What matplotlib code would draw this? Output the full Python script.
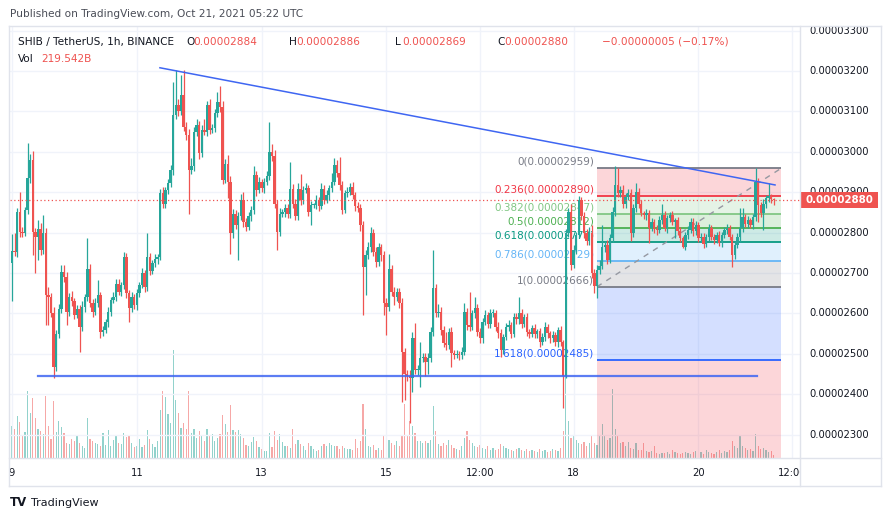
import numpy as np
import matplotlib.pyplot as plt
from matplotlib.patches import Rectangle
from matplotlib.lines import Line2D

# hourly SHIB/USDT closes, price in units of 1e-8 (2880 -> 0.00002880)
first_open = 2725
close = [
    2755, 2753, 2852, 2802, 2800, 2856, 2934, 2980, 2802, 2790,
    2810, 2757, 2800, 2645, 2641, 2600, 2468, 2550, 2612, 2703,
    2690, 2604, 2640, 2630, 2596, 2610, 2567, 2616, 2640, 2711,
    2625, 2604, 2625, 2645, 2555, 2560, 2579, 2604, 2633, 2640,
    2674, 2654, 2670, 2740, 2650, 2614, 2641, 2620, 2650, 2670,
    2700, 2666, 2740, 2705, 2724, 2735, 2740, 2897, 2872, 2905,
    2922, 2955, 3091, 3116, 3100, 3140, 3062, 3041, 2955, 2965,
    3050, 3066, 2996, 3054, 3050, 3116, 3054, 3060, 3095, 3124,
    3110, 2930, 2971, 2925, 2798, 2847, 2818, 2840, 2881, 2827,
    2815, 2840, 2855, 2942, 2905, 2925, 2910, 2925, 2940, 3000,
    2990, 2870, 2802, 2847, 2850, 2860, 2845, 2909, 2872, 2840,
    2909, 2880, 2905, 2910, 2852, 2868, 2868, 2880, 2866, 2909,
    2881, 2893, 2910, 2925, 2967, 2947, 2918, 2856, 2897, 2900,
    2913, 2893, 2865, 2860, 2819, 2716, 2744, 2765, 2798, 2753,
    2728, 2765, 2744, 2625, 2616, 2711, 2654, 2640, 2654, 2625,
    2505, 2451, 2445, 2439, 2538, 2460, 2460, 2489, 2493, 2480,
    2490, 2555, 2662, 2600, 2604, 2559, 2526, 2522, 2555, 2501,
    2497, 2500, 2496, 2504, 2604, 2572, 2567, 2600, 2613, 2555,
    2538, 2579, 2596, 2575, 2600, 2600, 2567, 2551, 2510, 2542,
    2567, 2571, 2550, 2592, 2585, 2600, 2575, 2590, 2555, 2550,
    2563, 2550, 2556, 2530, 2542, 2567, 2551, 2538, 2546, 2530,
    2559, 2530, 2444, 2800, 2850, 2720, 2757, 2794, 2881, 2840,
    2798, 2780, 2800, 2700, 2668, 2707, 2718, 2765, 2770, 2732,
    2786, 2852, 2918, 2897, 2905, 2872, 2889, 2897, 2798, 2860,
    2901, 2872, 2848, 2843, 2848, 2811, 2827, 2810, 2806, 2831,
    2844, 2811, 2836, 2844, 2827, 2831, 2803, 2786, 2765, 2794,
    2807, 2827, 2803, 2820, 2786, 2790, 2773, 2790, 2811, 2790,
    2782, 2794, 2774, 2794, 2807, 2811, 2790, 2745, 2769, 2790,
    2811, 2839, 2822, 2831, 2820, 2839, 2926, 2868, 2848, 2872,
    2885, 2890, 2884, 2880,
]
# wick length above the body top / below the body bottom
wick_up = [
    42, 43, 10, 48, 12, 8, 88, 15, 22, 10,
    20, 15, 43, 12, 20, 10, 15, 8, 12, 18,
    17, 12, 10, 15, 8, 12, 10, 14, 8, 75,
    12, 10, 14, 38, 8, 10, 6, 12, 8, 14,
    10, 12, 8, 13, 10, 8, 12, 6, 10, 8,
    12, 8, 58, 10, 8, 12, 6, 12, 15, 8,
    10, 12, 82, 86, 15, 50, 62, 12, 15, 20,
    12, 14, 10, 12, 26, 10, 14, 8, 12, 25,
    39, 15, 12, 21, 14, 12, 10, 12, 15, 20,
    8, 10, 12, 23, 10, 12, 8, 10, 12, 74,
    20, 15, 10, 14, 8, 12, 10, 66, 12, 10,
    14, 37, 10, 12, 8, 10, 6, 12, 8, 13,
    10, 12, 8, 23, 17, 12, 41, 10, 8, 12,
    9, 12, 8, 10, 12, 10, 14, 12, 15, 10,
    12, 10, 8, 10, 14, 37, 10, 12, 8, 10,
    12, 10, 8, 14, 17, 39, 12, 41, 10, 8,
    12, 12, 95, 10, 19, 12, 10, 29, 8, 12,
    8, 10, 6, 12, 21, 10, 82, 8, 28, 10,
    8, 10, 12, 8, 12, 10, 8, 12, 10, 8,
    10, 12, 8, 10, 8, 41, 10, 8, 12, 6,
    8, 10, 6, 8, 10, 12, 8, 6, 10, 8,
    8, 10, 5, 10, 10, 20, 12, 8, 9, 7,
    12, 10, 15, 20, 10, 12, 14, 54, 10, 12,
    10, 12, 47, 41, 10, 12, 8, 10, 12, 10,
    21, 10, 8, 6, 10, 8, 10, 6, 8, 10,
    28, 10, 8, 8, 10, 6, 8, 10, 6, 8,
    10, 8, 10, 8, 6, 10, 8, 6, 10, 8,
    6, 8, 10, 8, 6, 10, 8, 6, 10, 8,
    49, 21, 8, 10, 6, 8, 33, 10, 8, 10,
    8, 32, 6, 2,
]
wick_dn = [
    95, 10, 13, 12, 10, 8, 10, 12, 58, 90,
    58, 12, 10, 74, 70, 10, 29, 10, 12, 10,
    12, 33, 10, 12, 10, 8, 62, 10, 12, 8,
    10, 12, 8, 10, 15, 10, 8, 12, 10, 8,
    10, 8, 12, 10, 12, 34, 10, 8, 12, 10,
    8, 12, 10, 10, 8, 10, 12, 8, 10, 12,
    10, 8, 12, 10, 12, 8, 10, 12, 108, 10,
    12, 10, 14, 10, 8, 12, 10, 8, 12, 10,
    12, 10, 8, 40, 50, 12, 10, 86, 10, 12,
    10, 8, 12, 10, 14, 8, 10, 12, 8, 10,
    12, 10, 45, 10, 8, 12, 10, 8, 12, 10,
    8, 12, 10, 8, 10, 34, 8, 10, 12, 8,
    10, 8, 12, 10, 8, 10, 12, 10, 8, 10,
    8, 10, 12, 10, 14, 120, 71, 10, 12, 10,
    12, 10, 14, 29, 70, 10, 12, 20, 10, 12,
    124, 66, 12, 111, 34, 10, 12, 42, 10, 35,
    30, 10, 12, 10, 8, 12, 10, 12, 10, 33,
    10, 8, 12, 10, 8, 12, 10, 8, 12, 10,
    12, 10, 8, 10, 12, 8, 10, 12, 17, 10,
    8, 10, 12, 8, 10, 12, 10, 8, 12, 10,
    8, 10, 12, 12, 8, 10, 12, 10, 8, 10,
    12, 10, 79, 4, 10, 12, 8, 10, 8, 10,
    12, 10, 10, 12, 18, 31, 10, 8, 12, 10,
    8, 10, 12, 8, 10, 12, 10, 8, 18, 10,
    8, 10, 8, 10, 12, 36, 8, 10, 12, 8,
    10, 8, 12, 10, 8, 41, 10, 8, 4, 8,
    10, 8, 12, 10, 8, 10, 12, 8, 10, 8,
    10, 8, 6, 10, 8, 10, 8, 29, 10, 8,
    12, 10, 8, 10, 8, 12, 10, 42, 10, 42,
    10, 8, 10, 11,
]
# volume, relative bar heights
volume = [
    32, 29, 42, 36, 23, 26, 67, 45, 60, 40,
    29, 27, 24, 62, 32, 19, 57, 26, 37, 31,
    25, 15, 14, 19, 17, 23, 15, 12, 10, 40,
    19, 17, 15, 14, 12, 25, 13, 28, 12, 18,
    23, 15, 14, 25, 21, 22, 15, 11, 12, 19,
    11, 13, 28, 19, 14, 11, 17, 48, 67, 61,
    44, 35, 108, 58, 45, 30, 35, 29, 67, 25,
    29, 20, 27, 23, 17, 29, 23, 24, 17, 20,
    24, 43, 34, 26, 53, 28, 26, 28, 24, 20,
    13, 12, 16, 21, 17, 11, 9, 7, 7, 25,
    11, 27, 18, 24, 16, 12, 12, 10, 29, 14,
    18, 14, 12, 8, 15, 12, 9, 7, 8, 12,
    14, 12, 15, 13, 12, 12, 9, 12, 10, 9,
    9, 8, 19, 10, 17, 54, 29, 12, 11, 13,
    8, 10, 8, 22, 26, 18, 15, 13, 17, 12,
    23, 54, 23, 37, 32, 25, 17, 17, 15, 17,
    15, 18, 52, 27, 14, 12, 15, 13, 18, 13,
    10, 9, 8, 12, 20, 27, 18, 15, 12, 11,
    13, 10, 9, 12, 8, 10, 8, 9, 14, 12,
    10, 9, 8, 7, 9, 10, 8, 7, 9, 7,
    8, 7, 6, 9, 7, 8, 6, 7, 9, 8,
    7, 10, 27, 87, 37, 20, 23, 18, 15, 14,
    16, 12, 15, 22, 15, 13, 22, 34, 22, 18,
    20, 69, 29, 22, 15, 16, 12, 16, 10, 9,
    15, 8, 8, 15, 7, 6, 7, 12, 5, 4,
    5, 5, 6, 4, 8, 6, 5, 4, 5, 6,
    5, 4, 6, 7, 5, 6, 4, 8, 6, 5,
    4, 6, 8, 5, 7, 6, 8, 17, 12, 10,
    22, 12, 10, 8, 9, 7, 24, 12, 9, 10,
    8, 6, 7, 3,
]

price_ticks = [2300, 2400, 2500, 2600, 2700, 2800, 2900, 3000, 3100, 3200, 3300]
time_ticks = [0, 48, 96, 144, 180, 216, 264, 300]
time_labels = ["9", "11", "13", "15", "12:00", "18", "20", "12:00"]

fib_levels = ["0", "0.236", "0.382", "0.5", "0.618", "0.786", "1", "1.618", "2.618"]
fib_prices = [2959, 2890, 2847, 2812, 2778, 2729, 2666, 2485, 2192]
fib_colors = ["#787b86", "#f23645", "#81c784", "#4caf50", "#089981",
              "#64b5f6", "#787b86", "#2962ff", "#f23645"]
fib_start, fib_end = 225, 295.8

trend_t = [56.9, 293.5]
trend_p = [3208, 2918]
support_t = [10, 286.5]
support_p = 2445
last_price = 2880

UP = "#26a69a"
DOWN = "#ef5350"
TXT = "#131722"

W, H = 892, 521
fig = plt.figure(figsize=(W / 100, H / 100), dpi=100)


def rect(left, top, right, bottom):
    return [left / W, 1 - bottom / H, (right - left) / W, (bottom - top) / H]


ylo, yhi = 2242.2, 3308.9
xlo, xhi = -0.77, 303.1

# volume pane underneath the price pane
vax = fig.add_axes(rect(10, 27, 800, 458))
vax.set_xlim(xlo, xhi)
vax.set_ylim(0, 431)
vax.axis("off")

ax = fig.add_axes(rect(10, 27, 800, 458))
ax.set_xlim(xlo, xhi)
ax.set_ylim(ylo, yhi)
ax.patch.set_visible(False)
ax.axis("off")

for tt in time_ticks:
    ax.axvline(tt, color="#f0f3fa", lw=1, zorder=0)
for pp in price_ticks:
    ax.axhline(pp, color="#f0f3fa", lw=1, zorder=0)

c = np.array(close, dtype=float)
o = np.concatenate([[first_open], c[:-1]])
body_lo = np.minimum(o, c)
body_hi = np.maximum(o, c)
hi = body_hi + np.array(wick_up)
lo = body_lo - np.array(wick_dn)
t = np.arange(len(c))
cols = np.where(c >= o, UP, DOWN)

vax.bar(t, volume, width=0.45, color=cols, alpha=0.5, lw=0, antialiased=False)

# fibonacci retracement
for i in range(len(fib_prices) - 1):
    ax.fill_between([fib_start, fib_end], fib_prices[i], fib_prices[i + 1],
                    color=fib_colors[i + 1], alpha=0.2, lw=0, zorder=1)
for i in range(len(fib_prices) - 1):
    ax.hlines(fib_prices[i], fib_start, fib_end, color=fib_colors[i], lw=1.3, zorder=2)
    ax.annotate(f"{fib_levels[i]}({fib_prices[i] * 1e-8:.8f})", xy=(fib_start, fib_prices[i]),
                xytext=(-2, 1), textcoords="offset points", ha="right", va="bottom",
                fontsize=7.5, color=fib_colors[i], zorder=3)
ax.plot([fib_start, fib_end], [fib_prices[6], fib_prices[0]], color="#9598a1",
        ls=(0, (4, 4)), lw=1, zorder=2)

ax.plot(trend_t, trend_p, color="#3f66f2", lw=1.1, zorder=6)
ax.plot(support_t, [support_p, support_p], color="#3f66f2", lw=1.6, alpha=0.85, zorder=6)

ax.vlines(t, lo, hi, colors=cols, lw=0.9, zorder=4)
ax.bar(t, np.maximum(body_hi - body_lo, 2.5), bottom=body_lo, width=0.9,
       color=cols, lw=0, zorder=5, antialiased=False)

ax.axhline(last_price, color=DOWN, ls=(0, (1, 2)), lw=0.9, zorder=7)

# price scale
pax = fig.add_axes(rect(800, 27, 880, 458))
pax.set_ylim(ylo, yhi)
pax.set_xlim(0, 1)
pax.axis("off")
for pp in price_ticks:
    # the 2900 label partly disappears under the last-price tag, as in the original
    pax.text(0.12, pp, f"{pp * 1e-8:.8f}", fontsize=7.2, color=TXT, va="center",
             ha="left", clip_on=True, zorder=1)
pax.add_patch(Rectangle((0, last_price - 20), 0.975, 40, color=DOWN, lw=0, zorder=3))
pax.text(0.49, last_price, f"{last_price * 1e-8:.8f}", fontsize=7.4, color="white",
         fontweight="bold", va="center", ha="center", zorder=4)

# time scale
tax = fig.add_axes(rect(10, 458, 800, 486))
tax.set_xlim(xlo, xhi)
tax.set_ylim(0, 1)
tax.axis("off")
for tt, lab in zip(time_ticks, time_labels):
    tax.text(tt, 0.45, lab, fontsize=7.2, color=TXT, ha="center", va="center", clip_on=True)

# frame
frame_col = "#e0e3eb"
for x0, y0, x1, y1 in [(9, 26, 881, 26), (9, 486, 881, 486), (9, 26, 9, 486),
                       (881, 26, 881, 486), (800, 26, 800, 486), (9, 458, 881, 458)]:
    fig.add_artist(Line2D([x0 / W, x1 / W], [1 - y0 / H, 1 - y1 / H],
                          color=frame_col, lw=1))

fig.text(10 / W, 1 - 14 / H, "Published on TradingView.com, Oct 21, 2021 05:22 UTC",
         fontsize=7.6, color="#4a4d57", va="center")

hy = 1 - 42 / H
fs = 7.6
fig.text(18 / W, hy, "SHIB / TetherUS, 1h, BINANCE", fontsize=fs, color=TXT, va="center")
for x_lab, lab, val in [(186, "O", "0.00002884"), (289, "H", "0.00002886"),
                        (395, "L", "0.00002869"), (497, "C", "0.00002880")]:
    fig.text(x_lab / W, hy, lab, fontsize=fs, color=TXT, va="center")
    fig.text((x_lab + 7.5) / W, hy, val, fontsize=fs, color=DOWN, va="center")
fig.text(602 / W, hy, "\u22120.00000005 (\u22120.17%)", fontsize=fs, color=DOWN, va="center")
fig.text(18 / W, 1 - 59 / H, "Vol", fontsize=fs, color=TXT, va="center")
fig.text(41 / W, 1 - 59 / H, "219.542B", fontsize=fs, color=DOWN, va="center")

fig.text(10 / W, 1 - 503 / H, "TV", fontsize=8.5, color=TXT, fontweight="heavy", va="center")
fig.text(31 / W, 1 - 503 / H, "TradingView", fontsize=8, color=TXT, va="center")

fig.savefig("out.png", dpi=100)
